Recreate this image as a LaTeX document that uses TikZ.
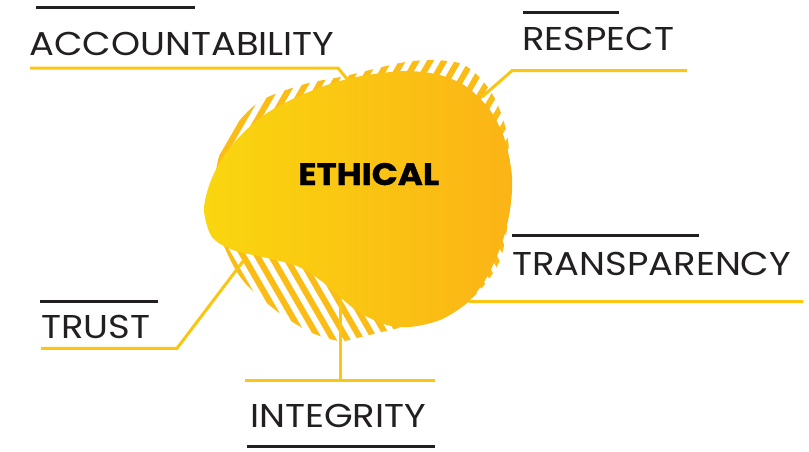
\documentclass[tikz,border=0pt]{standalone}
\usepackage{fontspec}
\setmainfont{Poppins}
\newfontfamily\labfont[FakeStretch=1.12]{Poppins}
\newfontfamily\ethfont[FakeStretch=1.1,FakeBold=1.2]{Poppins}
\definecolor{ink}{HTML}{231F20}
\definecolor{gold}{HTML}{F9C612}
\definecolor{hatchc}{HTML}{FBBC16}
\definecolor{blobL}{HTML}{F9D60F}
\definecolor{blobR}{HTML}{FBB416}
\tikzset{
  lab/.style={font=\labfont\fontsize{33}{33}\selectfont, text=ink, inner sep=0pt, anchor=base west},
  rulebar/.style={ink, line width=3},
  conn/.style={gold, line width=3},
  stripe/.style={hatchc, line width=6},
}
\begin{document}
\begin{tikzpicture}[x=1pt,y=-1pt]
\useasboundingbox (0,0) rectangle (809,451);
% hatched backdrop, upper part
\begin{scope}
\clip plot[smooth cycle] coordinates {(305,84) (345,76) (400,63) (433,60) (462,64) (482,80) (497,103) (508,140) (510,200) (500,260) (470,300) (430,320) (390,330) (365,336) (340,341) (310,332) (278,312) (245,283) (228,255) (214,215) (218,160) (236,125) (262,100)};
\clip (0,0) rectangle (809,200);
\foreach \i in {-20,...,16}
  \draw[stripe] (350+\i*13.9-150,460) -- (350+\i*13.9+150,-60);
\end{scope}
% hatched backdrop, lower part
\begin{scope}
\clip plot[smooth cycle] coordinates {(305,84) (345,76) (400,63) (433,60) (462,64) (482,80) (497,103) (508,140) (510,200) (500,260) (470,300) (430,320) (390,330) (365,336) (340,341) (310,332) (278,312) (245,283) (228,255) (214,215) (218,160) (236,125) (262,100)};
\clip (0,200) rectangle (809,451);
\foreach \i in {-20,...,14}
  \draw[stripe] (350+\i*13.9-150,-60) -- (350+\i*13.9+150,460);
\end{scope}
% connector points
\coordinate (accA) at (30,68);
\coordinate (accB) at (338,68);
\coordinate (accC) at (352,85);
\coordinate (resA) at (687,70.7);
\coordinate (resB) at (512,70.7);
\coordinate (resC) at (482,97);
\coordinate (trA) at (803,301.7);
\coordinate (trB) at (470,301.7);
\coordinate (trC) at (460,292);
\coordinate (tuA) at (41,348.3);
\coordinate (tuB) at (177,348.3);
\coordinate (tuC) at (244,260);
\coordinate (inA) at (245,380.7);
\coordinate (inB) at (435,380.7);
\coordinate (inM) at (340,380.7);
\coordinate (inT) at (340,290);
\draw[conn] (accA) -- (accB) -- (accC);
\draw[conn] (resA) -- (resB) -- (resC);
\draw[conn] (trA) -- (trB) -- (trC);
\draw[conn] (tuA) -- (tuB) -- (tuC);
\draw[conn] (inA) -- (inB);
\draw[conn] (inM) -- (inT);
% main blob
\shade[left color=blobL, right color=blobR] plot[smooth cycle] coordinates {(204,210) (210,183) (223,157) (243,133) (267,113) (297,97) (333,83) (367,75) (407,71) (440,75) (467,87) (490,110) (505,140) (512,177) (510,210) (502,243) (487,277) (467,303) (440,320) (410,327) (387,325) (360,313) (340,297) (320,280) (297,266) (267,258) (233,250) (212,237)};
\node[font=\ethfont\fontsize{31}{31}\selectfont\bfseries, text=black, inner sep=0pt, anchor=base west] (eth) at (298,185) {ETHICAL};
% labels
\node[lab] (acc) at (29,55) {ACCOUNTABILITY};
\node[lab] (res) at (522,50) {RESPECT};
\node[lab] (tra) at (512,275) {TRANSPARENCY};
\node[lab] (tru) at (41,338) {TRUST};
\node[lab] (int) at (250,427) {INTEGRITY};
% dark bars
\draw[rulebar] (36,7.3) -- (195,7.3);
\draw[rulebar] (523,12) -- (619,12);
\draw[rulebar] (512,235.7) -- (699,235.7);
\draw[rulebar] (40,301.7) -- (158,301.7);
\draw[rulebar] (247,446.7) -- (435,446.7);
\end{tikzpicture}
\end{document}
